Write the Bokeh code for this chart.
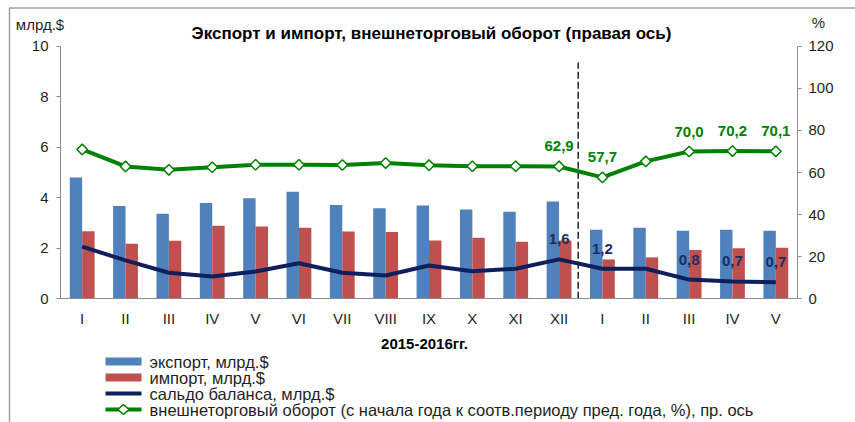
from bokeh.plotting import figure
from bokeh.models import (Range1d, LinearAxis, FixedTicker, Label, LabelSet,
                          BoxAnnotation, PolyAnnotation, ColumnDataSource)
from bokeh.transform import dodge
from bokeh.core.properties import value
from bokeh.embed import file_html
from bokeh.resources import INLINE

# ---------------- data ----------------
months = ["I", "II", "III", "IV", "V", "VI", "VII", "VIII", "IX", "X", "XI", "XII",
          "I", "II", "III", "IV", "V"]
export = [4.80, 3.68, 3.37, 3.79, 3.98, 4.24, 3.71, 3.59, 3.70, 3.54, 3.45, 3.85,
          2.73, 2.81, 2.70, 2.73, 2.70]
imports = [2.68, 2.18, 2.30, 2.89, 2.86, 2.81, 2.67, 2.65, 2.31, 2.42, 2.26, 2.31,
           1.56, 1.64, 1.93, 2.00, 2.02]
saldo = [2.07, 1.52, 1.03, 0.88, 1.08, 1.41, 1.03, 0.92, 1.32, 1.09, 1.19, 1.56,
         1.19, 1.19, 0.76, 0.69, 0.66]
turnover = [71.0, 62.9, 61.3, 62.5, 63.7, 63.7, 63.6, 64.5, 63.5, 63.0, 63.0, 62.9,
            57.7, 65.3, 70.0, 70.2, 70.1]
labelled = [11, 12, 14, 15, 16]
left_ticks = [0, 2, 4, 6, 8, 10]
right_ticks = [0, 20, 40, 60, 80, 100, 120]

title = "Экспорт и импорт, внешнеторговый оборот (правая ось)"
x_title = "2015-2016гг."
left_unit = "млрд.$"
right_unit = "%"
legend_names = ["экспорт, млрд.$", "импорт, млрд.$", "сальдо баланса, млрд.$",
                "внешнеторговый оборот (с начала года к соотв.периоду пред. года, %), пр. ось"]

BLUE = "#4F81BD"
RED = "#C0504D"
NAVY = "#0d1f5c"
GREEN = "#008000"
FONT = "Liberation Sans"
TXT = "#1f1f1f"
AX = "#8c8c8c"

W, H = 855, 422
n = len(months)
xs = [i + 0.5 for i in range(n)]

# layout geometry (pixels) of the plotting area
X0, X1 = 60.0, 797.0        # left / right axis lines
Y0, YTOP = 298.3, 45.8      # baseline / top of the value axes
XS = (X1 - X0) / n
YS = (Y0 - YTOP) / 10.0


def px2x(sx):
    return (sx - X0) / XS


def px2y(sy):
    return (Y0 - sy) / YS


def fmt(v):
    return f"{v:.1f}".replace(".", ",")


p = figure(width=W, height=H,
           x_range=Range1d(px2x(0), px2x(W)), y_range=Range1d(px2y(H), px2y(0)),
           output_backend="svg", toolbar_location=None, title=None,
           x_axis_location=None, y_axis_location=None,
           min_border=0, min_border_left=0, min_border_right=0,
           min_border_top=0, min_border_bottom=0)
p.extra_y_ranges = {"pct": Range1d(px2y(H) * 12, px2y(0) * 12)}
p.xgrid.visible = False
p.ygrid.visible = False
p.outline_line_color = None
p.background_fill_color = "white"
p.border_fill_color = "white"

src = ColumnDataSource(dict(x=xs, export=export, imports=imports, saldo=saldo,
                            turnover=turnover))

p.vbar(x=dodge("x", -0.143, range=p.x_range), top="export", bottom=0, width=0.286,
       source=src, fill_color=BLUE, line_color=None)
p.vbar(x=dodge("x", 0.143, range=p.x_range), top="imports", bottom=0, width=0.286,
       source=src, fill_color=RED, line_color=None)

# separator between years
p.segment(x0=[px2x(577.7)], y0=[0], x1=[px2x(577.7)], y1=[px2y(62)],
          line_color="#222222", line_width=1.5, line_dash="7 3")

p.line("x", "saldo", source=src, line_color=NAVY, line_width=4, line_join="round")
p.line("x", "turnover", source=src, y_range_name="pct", line_color=GREEN,
       line_width=4, line_join="round")
p.scatter("x", "turnover", source=src, y_range_name="pct", marker="square",
          angle=0.785, size=7.5, fill_color="white", line_color=GREEN, line_width=1.5)

lab_s = ColumnDataSource(dict(x=[xs[i] for i in labelled],
                              y=[saldo[i] for i in labelled],
                              t=[fmt(saldo[i]) for i in labelled]))
lab_t = ColumnDataSource(dict(x=[xs[i] for i in labelled],
                              y=[turnover[i] for i in labelled],
                              t=[fmt(turnover[i]) for i in labelled]))
p.add_layout(LabelSet(x="x", y="y", text="t", source=lab_s, y_offset=20,
                      text_align="center", text_baseline="middle",
                      text_font=value(FONT), text_font_size=value("15px"),
                      text_font_style=value("bold"), text_color=value("#17305f")))
p.add_layout(LabelSet(x="x", y="y", text="t", source=lab_t, y_offset=20,
                      y_range_name="pct",
                      text_align="center", text_baseline="middle",
                      text_font=value(FONT), text_font_size=value("15px"),
                      text_font_style=value("bold"), text_color=value(GREEN)))


def style_axis(ax, tick_out, standoff):
    ax.major_tick_out = tick_out
    ax.major_tick_in = 0
    ax.minor_tick_line_color = None
    ax.axis_line_color = AX
    ax.major_tick_line_color = AX if tick_out else None
    ax.major_label_standoff = standoff
    ax.major_label_text_font = FONT
    ax.major_label_text_font_size = "15px"
    ax.major_label_text_color = TXT


xa = LinearAxis(fixed_location=0, bounds=(0, n), ticker=FixedTicker(ticks=xs))
xa.major_label_overrides = {x: m for x, m in zip(xs, months)}
style_axis(xa, 0, 11)
p.add_layout(xa, "below")

ya = LinearAxis(fixed_location=0, bounds=(0, 10), ticker=FixedTicker(ticks=left_ticks))
style_axis(ya, 4, 8)
p.add_layout(ya, "left")

ra = LinearAxis(y_range_name="pct", fixed_location=n, bounds=(0, 120),
                ticker=FixedTicker(ticks=right_ticks))
style_axis(ra, 4, 7)
p.add_layout(ra, "right")

# texts
p.add_layout(Label(x=px2x(431), y=px2y(33), text=title, text_align="center",
                   text_baseline="middle", text_font=FONT, text_font_size="17px",
                   text_font_style="bold", text_color="black"))
p.add_layout(Label(x=px2x(39.5), y=px2y(24), text=left_unit, text_align="center",
                   text_baseline="middle", text_font=FONT, text_font_size="15px",
                   text_color=TXT))
p.add_layout(Label(x=px2x(818), y=px2y(22), text=right_unit, text_align="center",
                   text_baseline="middle", text_font=FONT, text_font_size="15px",
                   text_color=TXT))
p.add_layout(Label(x=px2x(424), y=px2y(342.7), text=x_title, text_align="center",
                   text_baseline="middle", text_font=FONT, text_font_size="15px",
                   text_font_style="bold", text_color="black"))

# chart border (left / top edges)
p.add_layout(BoxAnnotation(left=px2x(9), right=px2x(W + 50), top=px2y(7.5),
                           bottom=px2y(H + 50), fill_alpha=0, line_color="#a0a0a0",
                           line_alpha=1, line_width=1.5))

# legend
rows = [361, 377, 393, 409]
sx0, sx1 = 105, 141
p.add_layout(BoxAnnotation(left=px2x(sx0), right=px2x(sx1), top=px2y(rows[0] - 4),
                           bottom=px2y(rows[0] + 4), fill_color=BLUE, fill_alpha=1,
                           line_alpha=0))
p.add_layout(BoxAnnotation(left=px2x(sx0), right=px2x(sx1), top=px2y(rows[1] - 4),
                           bottom=px2y(rows[1] + 4), fill_color=RED, fill_alpha=1,
                           line_alpha=0))
p.add_layout(BoxAnnotation(left=px2x(sx0), right=px2x(sx1), top=px2y(rows[2] - 2),
                           bottom=px2y(rows[2] + 2), fill_color=NAVY, fill_alpha=1,
                           line_alpha=0))
p.add_layout(BoxAnnotation(left=px2x(sx0), right=px2x(sx1), top=px2y(rows[3] - 2),
                           bottom=px2y(rows[3] + 2), fill_color=GREEN, fill_alpha=1,
                           line_alpha=0))
cx, cy = (sx0 + sx1) / 2, rows[3]
p.add_layout(PolyAnnotation(xs=[px2x(cx - 5.5), px2x(cx), px2x(cx + 5.5), px2x(cx)],
                            ys=[px2y(cy), px2y(cy - 5), px2y(cy), px2y(cy + 5)],
                            fill_color="white", fill_alpha=1, line_color=GREEN,
                            line_alpha=1, line_width=1.5))
for r, name in zip(rows, legend_names):
    p.add_layout(Label(x=px2x(149), y=px2y(r), text=name, text_align="left",
                       text_baseline="middle", text_font=FONT, text_font_size="16.5px",
                       text_color=TXT))

open("out.html", "w").write(file_html(p, INLINE))
